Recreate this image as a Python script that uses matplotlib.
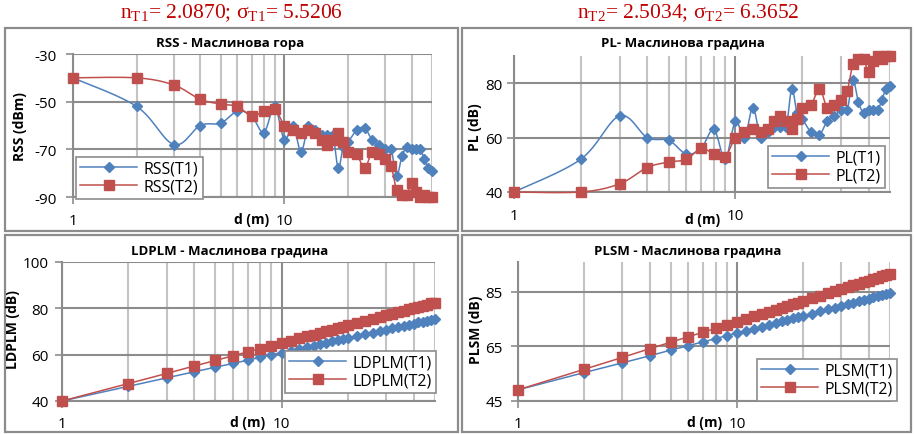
import numpy as np
import matplotlib
matplotlib.use("Agg")
import matplotlib.pyplot as plt
from matplotlib.patches import Rectangle
from matplotlib.ticker import FixedLocator, NullFormatter, FixedFormatter

# ---------------- data ----------------
distance_m = [1, 2, 3, 4, 5, 6, 7, 8, 9, 10, 11, 12, 13, 14, 15, 16, 17, 18, 19, 20,
              22, 24, 26, 28, 30, 32, 34, 36, 38, 40, 42, 44, 46, 48, 50]

rss_t1 = [-40, -52, -68, -60, -59, -54, -56, -63, -52, -66, -60, -71, -60, -62, -64, -64, -64, -78, -69, -67,
          -62, -61, -66, -68, -70, -70, -81, -73, -69, -70, -70, -70, -74, -78, -79]
rss_t2 = [-40, -40, -43, -49, -51, -52, -56, -54, -53, -60, -62, -63, -62, -63, -66, -68, -66, -63, -67, -71,
          -72, -78, -71, -72, -74, -77, -87, -89, -89, -84, -88, -90, -89, -90, -90]

pl_t1 = [40, 52, 68, 60, 59, 54, 56, 63, 52, 66, 60, 71, 60, 62, 64, 64, 64, 78, 69, 67,
         62, 61, 66, 68, 70, 70, 81, 73, 69, 70, 70, 70, 74, 78, 79]
pl_t2 = [40, 40, 43, 49, 51, 52, 56, 54, 53, 60, 62, 63, 62, 63, 66, 68, 66, 63, 67, 71,
         72, 78, 71, 72, 74, 77, 87, 89, 89, 84, 88, 90, 89, 90, 90]

ldplm_t1 = [40.0, 46.3, 50.0, 52.6, 54.6, 56.2, 57.6, 58.8, 59.9, 60.9, 61.7, 62.5, 63.2, 63.9, 64.5, 65.1,
            65.7, 66.2, 66.7, 67.2, 68.0, 68.8, 69.5, 70.2, 70.8, 71.4, 72.0, 72.5, 73.0, 73.4, 73.9,
            74.3, 74.7, 75.1, 75.5]
ldplm_t2 = [40.0, 47.5, 51.9, 55.1, 57.5, 59.5, 61.2, 62.6, 63.9, 65.0, 66.1, 67.0, 67.9, 68.7, 69.4, 70.1,
            70.8, 71.4, 72.0, 72.6, 73.6, 74.6, 75.4, 76.2, 77.0, 77.7, 78.3, 79.0, 79.5, 80.1, 80.6,
            81.1, 81.6, 82.1, 82.5]

plsm_t1 = [49.1, 55.4, 59.0, 61.6, 63.7, 65.3, 66.7, 67.9, 69.0, 70.0, 70.8, 71.6, 72.3, 73.0, 73.6, 74.2,
           74.8, 75.3, 75.8, 76.2, 77.1, 77.9, 78.6, 79.3, 79.9, 80.5, 81.0, 81.6, 82.0, 82.5, 83.0,
           83.4, 83.8, 84.2, 84.5]
plsm_t2 = [49.1, 56.6, 61.0, 64.2, 66.6, 68.6, 70.2, 71.7, 73.0, 74.1, 75.2, 76.1, 77.0, 77.8, 78.5, 79.2,
           79.9, 80.5, 81.1, 81.7, 82.7, 83.6, 84.5, 85.3, 86.1, 86.8, 87.4, 88.0, 88.6, 89.2, 89.7,
           90.2, 90.7, 91.2, 91.6]

header_t1 = "n$_{\\mathrm{T1}}$= 2.0870; σ$_{\\mathrm{T1}}$= 5.5206"
header_t2 = "n$_{\\mathrm{T2}}$= 2.5034; σ$_{\\mathrm{T2}}$= 6.3652"

# ---------------- style ----------------
plt.rcParams['font.family'] = ['Open Sans', 'DejaVu Sans']
plt.rcParams['mathtext.fontset'] = 'custom'
plt.rcParams['mathtext.rm'] = 'Liberation Serif'
plt.rcParams['mathtext.it'] = 'Liberation Serif:italic'
plt.rcParams['mathtext.bf'] = 'Liberation Serif:bold'

W, H = 915, 435
BLUE = '#4F81BD'
RED = '#C0504D'
GRID_DARK = '#8C8C8C'
GRID_LIGHT = '#C3C3C3'
BOX = '#8C8C8C'
MS_D = 5.6
MS_S = 6.8

fig = plt.figure(figsize=(W / 100, H / 100), dpi=100)
fig.patch.set_facecolor('white')


def rect(l, t, r, b):
    return [l / W, 1 - b / H, (r - l) / W, (b - t) / H]


def smooth(x, y, n=14):
    u = np.log10(np.asarray(x, float))
    pts = np.column_stack([u, np.asarray(y, float)])
    P = np.vstack([pts[0], pts, pts[-1]])
    segs = []
    t = np.linspace(0, 1, n, endpoint=False)[:, None]
    for i in range(1, len(P) - 2):
        p0, p1, p2, p3 = P[i - 1], P[i], P[i + 1], P[i + 2]
        c1 = p1 + (p2 - p0) / 6.0
        c2 = p2 - (p3 - p1) / 6.0
        b = (1 - t) ** 3 * p1 + 3 * (1 - t) ** 2 * t * c1 + 3 * (1 - t) * t ** 2 * c2 + t ** 3 * p2
        segs.append(b)
    segs.append(pts[-1:])
    arr = np.vstack(segs)
    return 10 ** arr[:, 0], arr[:, 1]


# panel boxes
for (x0, y0, x1, y1) in [(5, 29, 458, 232), (462, 29, 911, 232),
                         (5, 236, 458, 433), (462, 236, 911, 433)]:
    fig.add_artist(Rectangle((x0 / W, 1 - y1 / H), (x1 - x0) / W, (y1 - y0) / H,
                             transform=fig.transFigure, fill=False, ec=BOX, lw=1.6))

# headers
fig.text(231 / W, 1 - 13 / H, header_t1, color='#C00000', fontsize=15.5,
         family='Liberation Serif', ha='center', va='center')
fig.text(688 / W, 1 - 13 / H, header_t2, color='#C00000', fontsize=15.5,
         family='Liberation Serif', ha='center', va='center')

panels = [
    dict(r=(73, 55, 432, 198), ylim=(-90, -30), yticks=[-90, -70, -50, -30],
         s1=rss_t1, s2=rss_t2, n1='RSS(T1)', n2='RSS(T2)', smooth=True,
         title='RSS - Маслинова гора', tpos=(230, 43), ylab='RSS (dBm)', ypos=(20, 127),
         xlab_pos=(252, 220), ypad=7.0, xpad=6.5, leg=(76, 158)),
    dict(r=(514, 57, 890, 193), ylim=(40, 90), yticks=[40, 60, 80],
         s1=pl_t1, s2=pl_t2, n1='PL(T1)', n2='PL(T2)', smooth=True,
         title='PL- Маслинова градина', tpos=(683, 43), ylab='PL (dB)', ypos=(475, 127),
         xlab_pos=(703, 220), ypad=3.0, xpad=6.5, leg=(768, 147)),
    dict(r=(62, 263, 435, 402), ylim=(40, 100), yticks=[40, 60, 80, 100],
         s1=ldplm_t1, s2=ldplm_t2, n1='LDPLM(T1)', n2='LDPLM(T2)', smooth=False,
         title='LDPLM - Маслинова градина', tpos=(230, 251), ylab='LDPLM (dB)', ypos=(13, 330),
         xlab_pos=(248, 423), ypad=4.6, xpad=5.8, leg=(285, 352)),
    dict(r=(518, 263, 890, 402), ylim=(45, 96), yticks=[45, 65, 85],
         s1=plsm_t1, s2=plsm_t2, n1='PLSM(T1)', n2='PLSM(T2)', smooth=False,
         title='PLSM - Маслинова градина', tpos=(688, 251), ylab='PLSM (dB)', ypos=(476, 330),
         xlab_pos=(705, 423), ypad=5.8, xpad=5.8, leg=(757, 360)),
]

minor_x = [2, 3, 4, 5, 6, 7, 8, 9, 20, 30, 40, 50]

for p in panels:
    ax = fig.add_axes(rect(*p['r']))
    ax.set_xscale('log')
    ax.set_xlim(1, 50)
    ax.set_ylim(*p['ylim'])
    ax.set_facecolor('white')
    for s in ['top', 'right']:
        ax.spines[s].set_visible(False)
    for s in ['left', 'bottom']:
        ax.spines[s].set_color(GRID_DARK)
        ax.spines[s].set_linewidth(1.5)

    ax.xaxis.set_major_locator(FixedLocator([1, 10]))
    ax.xaxis.set_major_formatter(FixedFormatter(['1', '10']))
    ax.xaxis.set_minor_locator(FixedLocator(minor_x))
    ax.xaxis.set_minor_formatter(NullFormatter())
    ax.set_yticks(p['yticks'])
    ax.set_yticklabels([str(v) for v in p['yticks']])

    ax.tick_params(axis='x', which='major', length=5, width=1.2, color=GRID_DARK,
                   labelsize=11, pad=p['xpad'])
    ax.tick_params(axis='x', which='minor', length=0)
    ax.tick_params(axis='y', which='major', length=5, width=1.2, color=GRID_DARK,
                   labelsize=11, pad=p['ypad'])

    ax.grid(True, axis='y', which='major', color=GRID_DARK, lw=1.5, zorder=0)
    ax.grid(True, axis='x', which='major', color=GRID_DARK, lw=1.5, zorder=0)
    ax.grid(True, axis='x', which='minor', color=GRID_LIGHT, lw=1.5, zorder=0)
    ax.set_axisbelow(True)

    if p['smooth']:
        sx1, sy1 = smooth(distance_m, p['s1'])
        sx2, sy2 = smooth(distance_m, p['s2'])
    else:
        sx1, sy1 = distance_m, p['s1']
        sx2, sy2 = distance_m, p['s2']

    ax.plot(sx1, sy1, color=BLUE, lw=1.1, zorder=3, clip_on=False)
    ax.plot(distance_m, p['s1'], ls='none', marker='D', ms=MS_D, color=BLUE,
            mec=BLUE, zorder=4, clip_on=False)
    ax.plot(sx2, sy2, color=RED, lw=1.1, zorder=5, clip_on=False)
    ax.plot(distance_m, p['s2'], ls='none', marker='s', ms=MS_S, color=RED,
            mec=RED, zorder=6, clip_on=False)

    h1, = ax.plot([], [], color=BLUE, lw=1.1, marker='D', ms=MS_D, mec=BLUE)
    h2, = ax.plot([], [], color=RED, lw=1.1, marker='s', ms=MS_S, mec=RED)
    lx, ly = p['leg']
    leg = ax.legend([h1, h2], [p['n1'], p['n2']], loc='upper left',
                    bbox_to_anchor=(lx / W, 1 - ly / H), bbox_transform=fig.transFigure,
                    fontsize=11.5, frameon=True, fancybox=False, framealpha=1,
                    edgecolor=GRID_DARK, numpoints=1, handlelength=3.6,
                    handletextpad=0.4, borderpad=0.25, labelspacing=0.12,
                    borderaxespad=0)
    leg.get_frame().set_linewidth(1.2)
    leg.set_zorder(10)

    fig.text(p['tpos'][0] / W, 1 - p['tpos'][1] / H, p['title'], fontsize=9.5,
             fontweight='bold', ha='center', va='center')
    fig.text(p['ypos'][0] / W, 1 - p['ypos'][1] / H, p['ylab'], fontsize=10,
             fontweight='bold', ha='center', va='center', rotation=90)
    fig.text(p['xlab_pos'][0] / W, 1 - p['xlab_pos'][1] / H, 'd (m)', fontsize=10,
             fontweight='bold', ha='center', va='center')

fig.savefig('out.png', dpi=100, facecolor='white')
